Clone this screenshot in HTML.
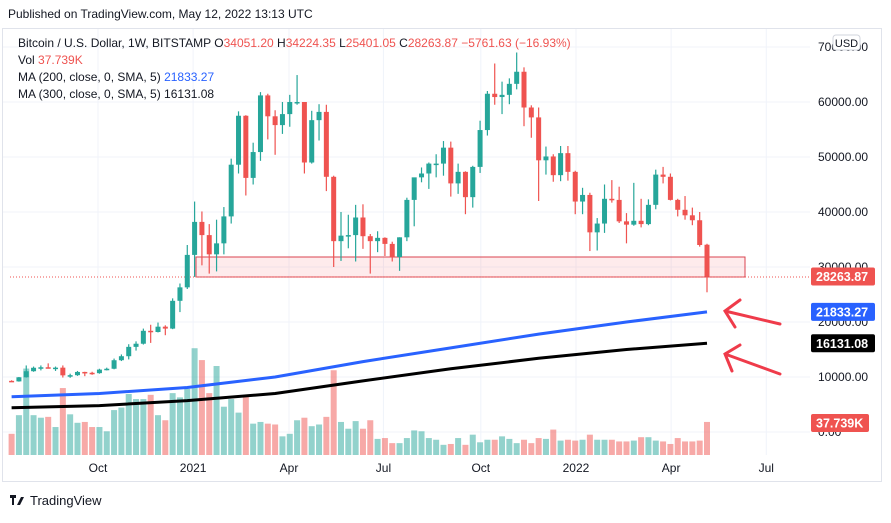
<!DOCTYPE html>
<html><head><meta charset="utf-8"><style>
body{margin:0;width:891px;height:518px;background:#fff;overflow:hidden;font-family:"Liberation Sans",sans-serif}
svg text{font-family:"Liberation Sans",sans-serif}
</style></head><body>
<svg id="c" width="891" height="518" xmlns="http://www.w3.org/2000/svg">
<text x="8" y="18" font-size="12" fill="#131722">Published on TradingView.com, May 12, 2022 13:13 UTC</text>
<rect x="2.5" y="28.5" width="879" height="453" fill="none" stroke="#e0e3eb"/>
<g id="grid"></g>
<g id="vol"></g>
<rect x="196" y="257" width="549" height="20" fill="rgba(242,54,69,0.1)" stroke="#d9434f" stroke-width="1"/>
<line x1="10" y1="277" x2="810" y2="277" stroke="#ef5350" stroke-dasharray="1,2"/>
<g id="ma"></g>
<g id="cand"></g>
<g id="axes"></g>
<g stroke="#ef3b4a" stroke-width="3" fill="none" stroke-linecap="round">
<path d="M780 324 L725 311 M740 300 L725 311 L735 327"/>
<path d="M780 374 L725 354 M740 345 L725 354 L732 371"/>
</g>
<text x="18" y="47" font-size="12" fill="#131722">Bitcoin / U.S. Dollar, 1W, BITSTAMP  O<tspan fill="#ef5350">34051.20</tspan>  H<tspan fill="#ef5350">34224.35</tspan>  L<tspan fill="#ef5350">25401.05</tspan>  C<tspan fill="#ef5350">28263.87</tspan>  <tspan fill="#ef5350">−5761.63 (−16.93%)</tspan></text>
<text x="18" y="64" font-size="12" fill="#131722">Vol  <tspan fill="#ef5350">37.739K</tspan></text>
<text x="18" y="81" font-size="12" fill="#131722">MA (200, close, 0, SMA, 5)  <tspan fill="#2962ff">21833.27</tspan></text>
<text x="18" y="98" font-size="12" fill="#131722">MA (300, close, 0, SMA, 5)  16131.08</text>
<rect x="833" y="35" width="27" height="15" rx="3" fill="#fff" stroke="#d1d4dc"/>
<text x="846.5" y="47" font-size="11" text-anchor="middle" fill="#131722">USD</text>
<g>
<path d="M10 495 h6 v3 h-2 v7 h-2 v-7 h-2z M17 505 l4 -8 h3 l-4 8z" fill="#131722"/>
<text x="30" y="505" font-size="13" fill="#131722">TradingView</text>
</g>
</svg>
<script>
const candleOpen=[9300,9200,9950,11050,11680,11770,11650,11700,10300,10330,10920,10770,10700,11350,11500,13050,13780,15480,16050,18400,18180,19150,18800,23850,26300,32200,38200,35800,32300,34300,39200,48600,57500,46200,50900,61200,57400,55800,57800,60000,60000,49000,56700,58200,46400,34700,35700,35800,39000,35600,34700,35300,34200,31800,35400,42200,46300,47000,48800,48800,51700,45200,47300,42700,48200,54900,61500,60900,61300,63300,65500,59000,57200,49400,50100,46700,50700,47300,41900,43100,36300,37900,42400,42200,38300,37700,38400,37800,41300,46800,46400,42200,40400,39400,38500,34051];
const candleHigh=[9400,10000,12100,11900,12100,12480,11900,12100,10600,11100,10950,10950,11500,11700,13350,14100,15960,16480,18800,19500,19900,19400,24300,27000,34000,41900,40100,37800,38600,40900,49700,58300,57600,52600,61800,61500,58500,60000,61300,64900,60000,58400,59600,59500,46600,40000,39500,41300,41400,36000,36500,35400,34600,35400,42600,46000,48100,49000,50500,52900,52800,48800,47400,48400,56600,62000,67000,63700,64300,69000,66300,59400,59000,51900,50500,52000,52000,47500,44400,43500,38900,45000,45800,44600,39800,45300,42400,42300,47700,48200,47000,42400,42900,40800,40000,34224];
const candleLow=[9100,9150,9900,10950,11200,11550,11100,9900,9850,10200,10150,10400,10600,11200,11400,12900,13200,14800,15900,16200,18100,17600,18700,21800,26000,28200,30300,28800,29200,32300,37900,47000,43000,45000,49300,53200,50400,54200,55500,59500,47000,48800,53000,43800,30000,31100,33400,31000,33300,28800,32700,32000,31000,29300,34700,37400,45400,44200,46300,46600,42800,43300,39600,40800,47100,53900,59500,57800,59600,62300,55600,53500,42000,46800,45500,45600,45700,39600,39600,32900,33000,36200,41700,38000,34300,37500,37200,37600,40500,45200,42100,39200,38600,37600,33700,25401];
const candleClose=[9200,9950,11050,11680,11770,11650,11700,10300,10330,10920,10770,10700,11350,11500,13050,13780,15480,16050,18400,18180,19150,18800,23850,26300,32200,38200,35800,32300,34300,39200,48600,57500,46200,50900,61200,57400,55800,57800,60000,60000,49000,56700,58200,46400,34700,35700,35800,39000,35600,34700,35300,34200,31800,35400,42200,46300,47000,48800,48800,51700,45200,47300,42700,48200,54900,61500,60900,61300,63300,65500,59000,57200,49400,50100,46700,50700,47300,41900,43100,36300,37900,42400,42200,38300,37700,38400,37800,41300,46800,46400,42200,40400,39400,38500,34000,28264];
const volumeK=[25,47,102,47,44,45,33,79,48,38,39,33,33,28,53,56,72,66,66,71,47,41,73,68,78,126,112,73,105,57,66,50,69,37,39,37,36,22,25,41,44,34,36,45,100,39,31,40,31,41,19,20,14,14,20,29,28,20,18,12,13,20,12,24,15,18,18,22,19,14,18,14,20,19,30,17,18,17,18,24,18,18,18,16,16,17,21,21,17,16,13,20,16,16,17,39];
const ma200Idx=[0,12,24,36,48,60,72,84,95];
const ma200Val=[6400,7000,8100,10000,12800,15300,17800,20000,21833];
const ma300Val=[4400,4800,5700,7000,9300,11500,13400,15000,16131];
const priceTicks=[0,10000,20000,30000,40000,50000,60000,70000];
const timeLabels=["Oct","2021","Apr","Jul","Oct","2022","Apr","Jul"];
const timeIdx=[11.8,24.8,37.9,50.8,64.1,77.1,90.1,103.1];

const NS="http://www.w3.org/2000/svg";
const xS=i=>11.6+i*7.32;
const yP=p=>432-p*0.0055;
const yV=v=>455-v/1.18;
function mk(tag,attrs,parent){const e=document.createElementNS(NS,tag);for(const k in attrs)e.setAttribute(k,attrs[k]);parent.appendChild(e);return e;}
const G=id=>document.getElementById(id);
const UP="#26a69a",DN="#ef5350";
priceTicks.forEach(p=>{
  const l=mk('line',{x1:3,x2:810,y1:yP(p),y2:yP(p),stroke:'#f0f3fa'},G('grid'));
  
  
  const t=mk('text',{x:818,y:yP(p)+4,'font-size':12,fill:'#131722'},G('axes'));
  t.textContent=p.toFixed(2);
  
  
});
timeLabels.forEach((s,k)=>{
  const x=xS(timeIdx[k]);
  const l=mk('line',{x1:x,x2:x,y1:29,y2:455,stroke:'#f0f3fa'},G('grid'));
  
  
  const t=mk('text',{x:x,y:472,'font-size':12,fill:'#131722','text-anchor':'middle'},G('axes'));
  t.textContent=s;
  
  
});
volumeK.forEach((v,i)=>{
  const up=candleClose[i]>=candleOpen[i];
  const r=mk('rect',{x:xS(i)-3,y:yV(v),width:6,height:455-yV(v),fill:up?'rgba(38,166,154,0.5)':'rgba(239,83,80,0.5)'},G('vol'));
  
  
});
function line(vals,color,name){
  const pts=ma200Idx.map((ix,k)=>xS(ix)+','+yP(vals[k])).join(' ');
  const p=mk('polyline',{points:pts,fill:'none',stroke:color,'stroke-width':3,'stroke-linejoin':'round'},G('ma'));
  
  
}
line(ma200Val,'#2962ff','ma200-line');
line(ma300Val,'#000000','ma300-line');
candleOpen.forEach((o,i)=>{
  const c=candleClose[i],up=c>=o,col=up?UP:DN,x=xS(i);
  const w=mk('line',{x1:x,x2:x,y1:yP(candleHigh[i]),y2:yP(candleLow[i]),stroke:col,'stroke-width':1.2},G('cand'));
  
  
  const top=yP(Math.max(o,c)),h=Math.max(1.5,Math.abs(yP(o)-yP(c)));
  const b=mk('rect',{x:x-2.5,y:top,width:5,height:h,fill:col},G('cand'));
  
  
});
[[28263.87,'#ef5350','28263.87',yP(28263.87),64,'last-price-label'],[21833.27,'#2962ff','21833.27',yP(21833.27),64,'ma200-value-label'],[16131.08,'#000','16131.08',yP(16131.08),64,'ma300-value-label'],[0,'#ef5350','37.739K',yV(37.739),58,'volume-value-label']].forEach(a=>{
  const r=mk('rect',{x:811,y:a[3]-9,width:a[4],height:18,rx:2,fill:a[1]},G('axes'));
  
  
  const t=mk('text',{x:816,y:a[3]+4.5,'font-size':12.5,'font-weight':'bold',fill:'#fff'},G('axes'));
  t.textContent=a[2];
  
  
});
</script>
</body></html>
